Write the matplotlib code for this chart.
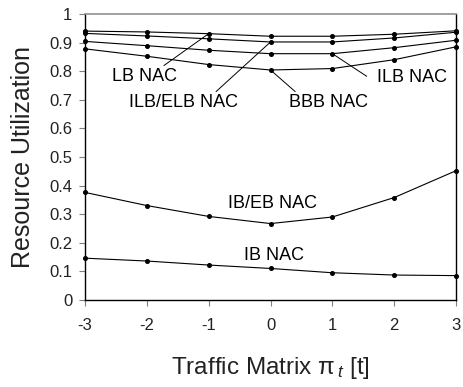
import matplotlib
matplotlib.use("Agg")
import matplotlib.pyplot as plt

plt.rcParams.update({
    "font.family": ["Liberation Sans", "DejaVu Sans"],
    "mathtext.fontset": "custom",
    "mathtext.rm": "Liberation Sans",
    "mathtext.it": "Liberation Sans:italic",
})

# ── Data ─────────────────────────────────────────────────────────────
traffic = [-3, -2, -1, 0, 1, 2, 3]
lb_nac = [0.940, 0.937, 0.931, 0.922, 0.922, 0.929, 0.941]
ilb_elb_nac = [0.932, 0.923, 0.913, 0.902, 0.902, 0.916, 0.936]
ilb_nac = [0.904, 0.889, 0.873, 0.861, 0.861, 0.882, 0.908]
bbb_nac = [0.878, 0.852, 0.823, 0.804, 0.809, 0.840, 0.885]
ib_eb_nac = [0.376, 0.330, 0.292, 0.267, 0.290, 0.358, 0.452]
ib_nac = [0.146, 0.136, 0.122, 0.110, 0.095, 0.087, 0.085]

y_ticks = [0, 0.1, 0.2, 0.3, 0.4, 0.5, 0.6, 0.7, 0.8, 0.9, 1]
y_labels = ["0", "0.1", "0.2", "0.3", "0.4", "0.5", "0.6", "0.7", "0.8", "0.9", "1"]

fig = plt.figure(figsize=(4.64, 3.87), dpi=100)
ax = fig.add_axes([0.183, 0.225, 0.800, 0.739])

for series in [lb_nac, ilb_elb_nac, ilb_nac, bbb_nac, ib_eb_nac, ib_nac]:
    ax.plot(traffic, series, color="black", lw=0.8, marker="o", ms=2.6,
            clip_on=False, zorder=3)

ax.set_xlim(-3, 3)
ax.set_ylim(0, 1)
ax.set_xticks(traffic)
ax.set_xticklabels([str(t) for t in traffic])
ax.set_yticks(y_ticks)
ax.set_yticklabels(y_labels)
ax.tick_params(direction="out", length=4, width=0.8, color="#808080",
               labelsize=12, labelcolor="#222222", pad=5)
ax.tick_params(axis="x", pad=9)

for side in ["left", "bottom", "right"]:
    ax.spines[side].set_color("black")
    ax.spines[side].set_linewidth(1.0)
ax.spines["top"].set_color("#909090")
ax.spines["top"].set_linewidth(1.2)

ax.set_ylabel("Resource Utilization", fontsize=18, labelpad=10, color="#222222")
ax.set_xlabel(r"Traffic Matrix π$_{\,t}$ [t]", fontsize=17.5, labelpad=16,
              color="#222222")

# ── Labels with leader lines ─────────────────────────────────────────
line_kw = dict(arrowstyle="-", color="black", lw=0.7, shrinkA=0, shrinkB=0)
ax.annotate("LB NAC", xy=(traffic[2], lb_nac[2]), xytext=(-2.03, 0.78),
            ha="center", va="center", fontsize=13,
            arrowprops=dict(line_kw, relpos=(0.75, 1.05)))
ax.annotate("ILB/ELB NAC", xy=(traffic[3], ilb_elb_nac[3]), xytext=(-1.41, 0.689),
            ha="center", va="center", fontsize=13,
            arrowprops=dict(line_kw, relpos=(0.79, 1.1)))
ax.annotate("BBB NAC", xy=(traffic[3], bbb_nac[3]), xytext=(0.93, 0.689),
            ha="center", va="center", fontsize=13,
            arrowprops=dict(line_kw, relpos=(0.1, 1.1)))
ax.annotate("ILB NAC", xy=(traffic[4], ilb_nac[4]), xytext=(2.29, 0.776),
            ha="center", va="center", fontsize=13,
            arrowprops=dict(line_kw, relpos=(-0.15, 0.6)))
ax.text(0.03, 0.336, "IB/EB NAC", ha="center", va="center", fontsize=13)
ax.text(0.06, 0.157, "IB NAC", ha="center", va="center", fontsize=13)

fig.savefig("out.png", dpi=100)
plt.close(fig)
